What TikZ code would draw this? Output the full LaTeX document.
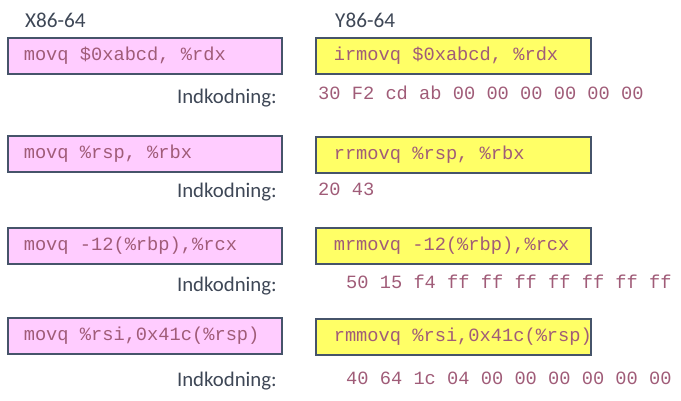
\documentclass[tikz,border=0pt]{standalone}
\usepackage{fontspec}
\setmainfont{Carlito}
\newfontfamily\codefont{Liberation Mono}
\usetikzlibrary{positioning}
\definecolor{boxline}{HTML}{46546A}
\definecolor{xfill}{HTML}{FFCCFF}
\definecolor{yfill}{HTML}{FFFF66}
\definecolor{codetext}{HTML}{A05C78}
\definecolor{labeltext}{HTML}{3E4756}
\newcommand{\xcode}[1]{\makebox[274pt][l]{\hspace*{16pt}#1}}
\newcommand{\ycode}[1]{\makebox[275pt][l]{\hspace*{18pt}#1}}
\tikzset{x=1pt, y=-1pt,
  codebox/.style = {draw=boxline, line width=1.6pt, anchor=north west,
                    minimum height=36pt, inner xsep=0pt, text=codetext,
                    font=\codefont\fontsize{18.7}{20}\selectfont},
  xbox/.style    = {codebox, fill=xfill},
  ybox/.style    = {codebox, fill=yfill},
  enc/.style     = {anchor=base west, inner sep=0pt, text=codetext,
                    font=\codefont\fontsize{18.7}{20}\selectfont},
  lbl/.style     = {anchor=base east, inner sep=0pt, text=labeltext,
                    font=\fontsize{20.8}{24}\selectfont},
  head/.style    = {anchor=base west, inner sep=0pt, text=labeltext,
                    font=\fontsize{21.2}{24}\selectfont}
}

\begin{document}
\begin{tikzpicture}
  \useasboundingbox (0,0) rectangle (681,400);
  % column headings
  \node[head] (xhead) at (25,27) {X86-64};
  \node[head] (yhead) at (335,27) {Y86-64};
  % instructions
  \node[xbox] (x1) at (7,37)  {\xcode{movq \$0xabcd, \%rdx}};
  \node[ybox] (y1) at (315,37) {\ycode{irmovq \$0xabcd, \%rdx}};
  \node[xbox] (x2) at (7,135)  {\xcode{movq \%rsp, \%rbx}};
  \node[ybox] (y2) at (315,136) {\ycode{rrmovq \%rsp, \%rbx}};
  \node[xbox] (x3) at (7,227)  {\xcode{movq -12(\%rbp),\%rcx}};
  \node[ybox] (y3) at (315,227) {\ycode{mrmovq -12(\%rbp),\%rcx}};
  \node[xbox] (x4) at (7,317)  {\xcode{movq \%rsi,0x41c(\%rsp)}};
  \node[ybox] (y4) at (315,318) {\ycode{rmmovq \%rsi,0x41c(\%rsp)}};
  % encodings
  \node[lbl] (lbl1) at (277,103) {Indkodning:};
  \node[enc] (enc1) at (318,99.5) {30 F2 cd ab 00 00 00 00 00 00};
  \node[lbl] (lbl2) at (277,197) {Indkodning:};
  \node[enc] (enc2) at (318,195) {20 43};
  \node[lbl] (lbl3) at (277,291) {Indkodning:};
  \node[enc] (enc3) at (346,288) {50 15 f4 ff ff ff ff ff ff ff};
  \node[lbl] (lbl4) at (277,386) {Indkodning:};
  \node[enc] (enc4) at (346,384) {40 64 1c 04 00 00 00 00 00 00};
\end{tikzpicture}
\end{document}
